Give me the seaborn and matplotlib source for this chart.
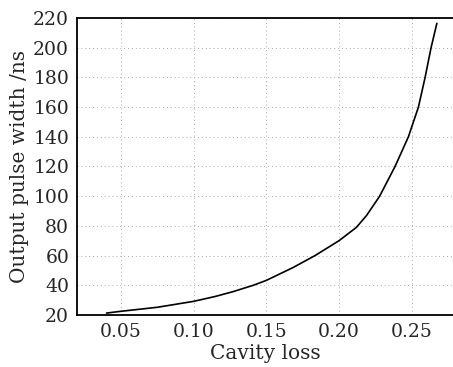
import matplotlib
matplotlib.use('Agg')
import matplotlib.pyplot as plt
import seaborn as sns
import pandas as pd

# values
cavity_loss = [0.040, 0.050, 0.075, 0.100, 0.1145, 0.127, 0.141, 0.150, 0.1685,
               0.1835, 0.200, 0.212, 0.219, 0.228, 0.2386, 0.2478, 0.2547,
               0.2593, 0.2634, 0.2674]
pulse_width = [21.3, 22.5, 25.2, 29.2, 32.4, 35.7, 40.0, 43.3, 52.0,
               60.0, 70.0, 79.0, 87.0, 100.0, 120.0, 140.0, 160.0,
               180.0, 200.0, 216.4]
x_ticks = [0.05, 0.10, 0.15, 0.20, 0.25]
y_ticks = [20, 40, 60, 80, 100, 120, 140, 160, 180, 200, 220]

df = pd.DataFrame({'loss': cavity_loss, 'width': pulse_width})

sns.set_style('white')
plt.rcParams['font.family'] = ['DejaVu Serif']
plt.rcParams['mathtext.fontset'] = 'dejavuserif'

fig = plt.figure(figsize=(4.53, 3.67), dpi=100)
ax = fig.add_axes([0.171, 0.1417, 0.829, 0.8093])

sns.lineplot(ax=ax, x='loss', y='width', data=df, color='black', linewidth=1.2)

ax.set_xlim(0.02, 0.2785)
ax.set_ylim(20, 220)
ax.set_xticks(x_ticks)
ax.set_xticklabels(['%.2f' % t for t in x_ticks])
ax.set_yticks(y_ticks)
ax.grid(True, linestyle=(0, (1, 3)), color='#aaaaaa', linewidth=0.7)
ax.tick_params(direction='in', length=3, labelsize=13.5, color='black', pad=6)

for s in ['left', 'top', 'bottom']:
    ax.spines[s].set_color('black')
    ax.spines[s].set_linewidth(1.3)
ax.spines['right'].set_visible(False)

ax.set_xlabel('Cavity loss', fontsize=14.5, labelpad=2)
ax.set_ylabel('Output pulse width /ns', fontsize=14.5, labelpad=3)

fig.savefig('out.png', dpi=100)
